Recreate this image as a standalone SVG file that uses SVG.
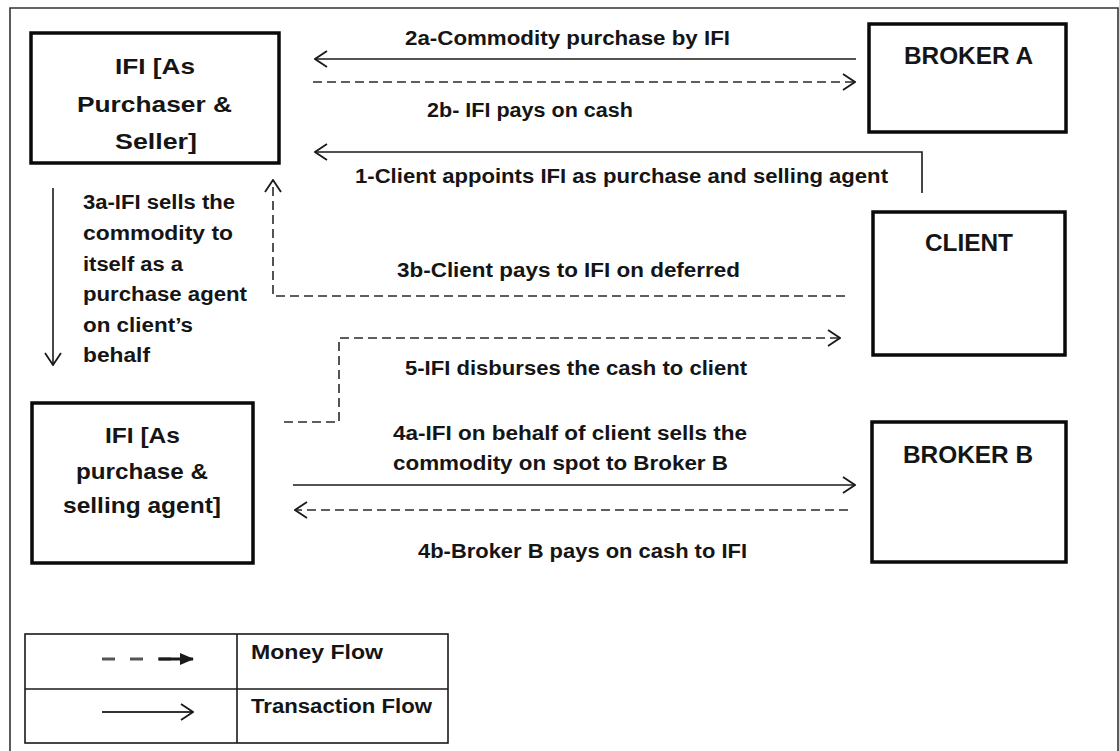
<svg xmlns="http://www.w3.org/2000/svg" width="1119" height="751" viewBox="0 0 1119 751">
  <style>
    .t { font-family: "Liberation Sans", Arial, sans-serif; font-weight: bold; fill: #151515; }
    .lbl { font-size: 20px; }
    .box { font-size: 22px; }
    .big { font-size: 24px; }
    .node { fill: #ffffff; stroke: #0a0a0a; stroke-width: 3.5; }
    .solid { fill: none; stroke: #1a1a1a; stroke-width: 1.6; }
    .dash { fill: none; stroke: #2a2a2a; stroke-width: 1.6; stroke-dasharray: 9 5; }
  </style>
  <defs>
    <marker id="open" viewBox="0 0 14 20" markerWidth="14" markerHeight="20" refX="13" refY="10" orient="auto" markerUnits="userSpaceOnUse">
      <path d="M1,2 L13,10 L1,18" fill="none" stroke="#1a1a1a" stroke-width="1.8" stroke-dasharray="none"/>
    </marker>
    <marker id="filled" viewBox="0 0 14 14" markerWidth="14" markerHeight="14" refX="13" refY="7" orient="auto" markerUnits="userSpaceOnUse">
      <path d="M0,1 L14,7 L0,13 Z" fill="#1a1a1a"/>
    </marker>
  </defs>

  <rect x="0" y="0" width="1119" height="751" fill="#ffffff"/>
  <!-- outer frame -->
  <path d="M10,760 L10,8 L1118,8 L1118,760" fill="none" stroke="#333" stroke-width="1.6"/>

  <g id="ifi-top">
    <rect class="node" x="31" y="33" width="248" height="130"/>
    <text class="t box" x="115" y="74" textLength="80" lengthAdjust="spacingAndGlyphs">IFI [As</text>
    <text class="t box" x="77" y="112" textLength="155" lengthAdjust="spacingAndGlyphs">Purchaser &amp;</text>
    <text class="t box" x="115" y="149" textLength="82" lengthAdjust="spacingAndGlyphs">Seller]</text>
  </g>

  <g id="broker-a">
    <rect class="node" x="869" y="24" width="197" height="108"/>
    <text class="t big" x="904" y="64" textLength="129" lengthAdjust="spacingAndGlyphs">BROKER A</text>
  </g>

  <g id="client">
    <rect class="node" x="873" y="212" width="192" height="143"/>
    <text class="t big" x="925" y="251" textLength="88" lengthAdjust="spacingAndGlyphs">CLIENT</text>
  </g>

  <g id="ifi-bottom">
    <rect class="node" x="32" y="403" width="221" height="160"/>
    <text class="t box" x="105" y="443" textLength="75" lengthAdjust="spacingAndGlyphs">IFI [As</text>
    <text class="t box" x="76" y="479" textLength="132" lengthAdjust="spacingAndGlyphs">purchase &amp;</text>
    <text class="t box" x="63" y="513" textLength="158" lengthAdjust="spacingAndGlyphs">selling agent]</text>
  </g>

  <g id="broker-b">
    <rect class="node" x="872" y="422" width="194" height="140"/>
    <text class="t big" x="903" y="463" textLength="130" lengthAdjust="spacingAndGlyphs">BROKER B</text>
  </g>

  <g id="connectors">
    <!-- 2a -->
    <line class="solid" x1="856" y1="59" x2="315" y2="59" marker-end="url(#open)"/>
    <!-- 2b -->
    <line class="dash" x1="313" y1="82" x2="855" y2="82" marker-end="url(#open)"/>
    <!-- 1 -->
    <polyline class="solid" points="922,193 922,152 315,152" marker-end="url(#open)"/>
    <!-- 3a -->
    <line class="solid" x1="53" y1="188" x2="53" y2="365" marker-end="url(#open)"/>
    <!-- 3b -->
    <polyline class="dash" points="845,296 273,296 273,180" marker-end="url(#open)"/>
    <!-- 5 -->
    <polyline class="dash" points="284,422 339,422 339,338 840,338" marker-end="url(#open)"/>
    <!-- 4a -->
    <line class="solid" x1="293" y1="485" x2="855" y2="485" marker-end="url(#open)"/>
    <!-- 4b -->
    <line class="dash" x1="848" y1="510" x2="295" y2="510" marker-end="url(#open)"/>
  </g>

  <g id="labels">
    <text class="t lbl" x="405" y="45" textLength="325" lengthAdjust="spacingAndGlyphs">2a-Commodity purchase by IFI</text>
    <text class="t lbl" x="427" y="117" textLength="206" lengthAdjust="spacingAndGlyphs">2b- IFI pays on cash</text>
    <text class="t lbl" x="355" y="183" textLength="533" lengthAdjust="spacingAndGlyphs">1-Client appoints IFI as purchase and selling agent</text>
    <text class="t lbl" x="83" y="209" textLength="152" lengthAdjust="spacingAndGlyphs">3a-IFI sells the</text>
    <text class="t lbl" x="83" y="240" textLength="150" lengthAdjust="spacingAndGlyphs">commodity to</text>
    <text class="t lbl" x="83" y="271" textLength="100" lengthAdjust="spacingAndGlyphs">itself as a</text>
    <text class="t lbl" x="83" y="301" textLength="164" lengthAdjust="spacingAndGlyphs">purchase agent</text>
    <text class="t lbl" x="83" y="332" textLength="110" lengthAdjust="spacingAndGlyphs">on client’s</text>
    <text class="t lbl" x="83" y="362" textLength="67" lengthAdjust="spacingAndGlyphs">behalf</text>
    <text class="t lbl" x="397" y="277" textLength="343" lengthAdjust="spacingAndGlyphs">3b-Client pays to IFI on deferred</text>
    <text class="t lbl" x="405" y="375" textLength="342" lengthAdjust="spacingAndGlyphs">5-IFI disburses the cash to client</text>
    <text class="t lbl" x="393" y="440" textLength="354" lengthAdjust="spacingAndGlyphs">4a-IFI on behalf of client sells the</text>
    <text class="t lbl" x="393" y="470" textLength="335" lengthAdjust="spacingAndGlyphs">commodity on spot to Broker B</text>
    <text class="t lbl" x="418" y="558" textLength="329" lengthAdjust="spacingAndGlyphs">4b-Broker B pays on cash to IFI</text>
  </g>

  <g id="legend">
    <rect x="25" y="634" width="423" height="109" fill="none" stroke="#1a1a1a" stroke-width="1.6"/>
    <line x1="237" y1="634" x2="237" y2="743" stroke="#1a1a1a" stroke-width="1.6"/>
    <line x1="25" y1="689" x2="448" y2="689" stroke="#1a1a1a" stroke-width="1.6"/>
    <line x1="102" y1="659" x2="180" y2="659" stroke="#555" stroke-width="3" stroke-dasharray="13 15"/>
    <line x1="159" y1="659" x2="193" y2="659" stroke="#1a1a1a" stroke-width="3" marker-end="url(#filled)"/>
    <line x1="102" y1="712" x2="193" y2="712" stroke="#333" stroke-width="1.8" marker-end="url(#open)"/>
    <text class="t lbl" x="251" y="659" textLength="132" lengthAdjust="spacingAndGlyphs">Money Flow</text>
    <text class="t lbl" x="251" y="713" textLength="181" lengthAdjust="spacingAndGlyphs">Transaction Flow</text>
  </g>
</svg>
